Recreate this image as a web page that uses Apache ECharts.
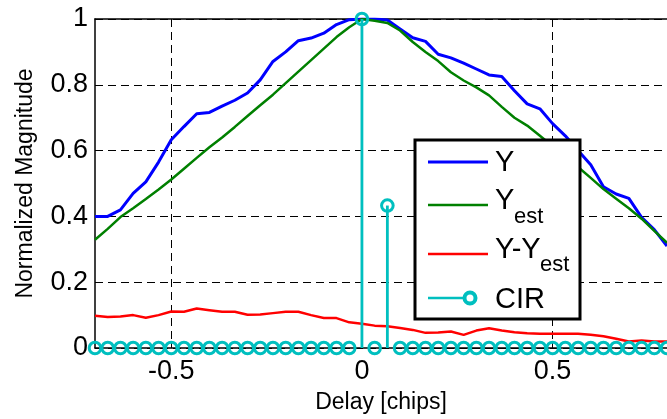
<!DOCTYPE html>
<html><head><meta charset="utf-8">
<script src="https://cdn.jsdelivr.net/npm/echarts@6/dist/echarts.min.js"></script>
<style>html,body{margin:0;padding:0;background:#fff}#c{width:667px;height:419px}</style>
</head><body><div id="c"></div>
<script>
const delays = [-0.7000,-0.6667,-0.6333,-0.6000,-0.5667,-0.5333,-0.5000,-0.4667,-0.4333,-0.4000,-0.3667,-0.3333,-0.3000,-0.2667,-0.2333,-0.2000,-0.1667,-0.1333,-0.1000,-0.0667,-0.0333,0,0.0333,0.0667,0.1000,0.1333,0.1667,0.2000,0.2333,0.2667,0.3000,0.3333,0.3667,0.4000,0.4333,0.4667,0.5000,0.5333,0.5667,0.6000,0.6333,0.6667,0.7000,0.7333,0.7667,0.8000];
const yMeasured = [0.40,0.40,0.42,0.47,0.505,0.565,0.633,0.673,0.712,0.716,0.735,0.753,0.775,0.815,0.871,0.90,0.934,0.942,0.957,0.983,0.998,1.0,1.0,0.997,0.97,0.943,0.932,0.893,0.882,0.866,0.848,0.83,0.825,0.782,0.742,0.727,0.682,0.645,0.60,0.557,0.49,0.468,0.455,0.397,0.36,0.31];
const yEstimated = [0.329,0.362,0.398,0.425,0.453,0.482,0.512,0.545,0.578,0.61,0.64,0.672,0.705,0.738,0.77,0.805,0.84,0.875,0.91,0.945,0.975,1.0,0.995,0.988,0.965,0.93,0.9,0.872,0.838,0.813,0.792,0.768,0.733,0.70,0.676,0.645,0.613,0.582,0.55,0.517,0.483,0.454,0.425,0.393,0.356,0.32];
const yDiff = [0.098,0.094,0.096,0.10,0.092,0.10,0.111,0.11,0.12,0.115,0.11,0.11,0.101,0.102,0.106,0.11,0.11,0.10,0.091,0.091,0.078,0.074,0.068,0.066,0.061,0.055,0.046,0.047,0.05,0.04,0.053,0.06,0.053,0.048,0.045,0.043,0.043,0.043,0.043,0.04,0.036,0.028,0.02,0.023,0.02,0.02];
const cir = [0,0,0,0,0,0,0,0,0,0,0,0,0,0,0,0,0,0,0,0,0,1.0,0,0.433,0,0,0,0,0,0,0,0,0,0,0,0,0,0,0,0,0,0,0,0,0,0];
const xTicks = [-0.5, 0, 0.5];
const legendNames = ['Y', 'Y', 'Y-Y', 'CIR'];
const legendSubs = ['', 'est', 'est', ''];

const FONT = '"Liberation Sans", Arial, Helvetica, sans-serif';
const BLUE = '#0000FF', GREEN = '#008000', RED = '#FF0000', CYAN = '#00BFBF';
const pairs = arr => delays.map((d, i) => [d, arr[i]]);

const chart = echarts.init(document.getElementById('c'), null, {renderer: 'canvas'});

const legX = 415, legY = 140, legW = 165, legH = 179;
const rowLineY = [162, 205, 254, 298];
const rowTextY = [163, 201, 250, 300];
const rowSubY = [0, 217, 265, 0];
const colors = [BLUE, GREEN, RED, CYAN];
const lineWidths = [3, 2.5, 2.5, 2.5];
const graphics = [{
  type: 'rect', z: 100, shape: {x: legX, y: legY, width: legW, height: legH},
  style: {fill: '#fff', stroke: '#000', lineWidth: 3}
}];
legendNames.forEach((nm, i) => {
  graphics.push({type: 'line', z: 101, shape: {x1: 428, y1: rowLineY[i], x2: i === 3 ? 468 : 488, y2: rowLineY[i]},
    style: {stroke: colors[i], lineWidth: lineWidths[i]}});
  graphics.push({type: 'text', z: 101, x: 495, y: rowTextY[i],
    style: {text: nm, font: '29px ' + FONT, fill: '#000', textAlign: 'left', textVerticalAlign: 'middle'}});
  if (legendSubs[i]) {
    graphics.push({type: 'text', z: 101, x: i === 1 ? 514 : 540, y: rowSubY[i],
      style: {text: legendSubs[i], font: '22px ' + FONT, fill: '#000', textAlign: 'left', textVerticalAlign: 'middle'}});
  }
});
graphics.push({type: 'circle', z: 102, shape: {cx: 470, cy: 298, r: 5.5}, style: {fill: '#fff', stroke: CYAN, lineWidth: 4}});

const option = {
  animation: false,
  backgroundColor: '#fff',
  grid: {left: 95, top: 19, width: 576, height: 329.3, show: false},
  xAxis: [{
    type: 'value', min: -0.7, max: 0.8, position: 'bottom',
    axisLine: {show: true, onZero: false, lineStyle: {color: '#000', width: 1.5}},
    axisTick: {show: true, inside: true, length: 6, customValues: xTicks, lineStyle: {color: '#000', width: 1}},
    axisLabel: {customValues: xTicks, fontSize: 27, color: '#000', fontFamily: FONT, margin: 10, formatter: v => String(v)},
    splitLine: {show: true, lineStyle: {color: '#000', type: [8, 5], width: 1}},
    name: 'Delay [chips]', nameLocation: 'middle', nameGap: 43,
    nameTextStyle: {fontSize: 23, color: '#000', fontFamily: FONT}
  }, {
    type: 'value', min: -0.7, max: 0.8, position: 'top',
    axisLine: {show: true, onZero: false, lineStyle: {color: '#000', width: 1.5}},
    axisTick: {show: true, inside: true, length: 6, customValues: xTicks, lineStyle: {color: '#000', width: 1}},
    axisLabel: {show: false}, splitLine: {show: false}
  }],
  yAxis: [{
    type: 'value', min: 0, max: 1, interval: 0.2,
    axisLine: {show: true, onZero: false, lineStyle: {color: '#000', width: 1.5}},
    axisTick: {show: true, inside: true, length: 6, lineStyle: {color: '#000', width: 1}},
    axisLabel: {fontSize: 27, color: '#000', fontFamily: FONT, margin: 7},
    splitLine: {show: true, lineStyle: {color: '#000', type: [8, 5], width: 1}},
    name: 'Normalized Magnitude', nameLocation: 'middle', nameGap: 58, nameRotate: 90,
    nameTextStyle: {fontSize: 23, color: '#000', fontFamily: FONT}
  }],
  series: [
    {type: 'line', name: 'Y', data: pairs(yMeasured), showSymbol: false, symbol: 'none', clip: true,
      lineStyle: {color: BLUE, width: 3}, z: 3},
    {type: 'line', name: 'Yest', data: pairs(yEstimated), showSymbol: false, symbol: 'none', clip: true,
      lineStyle: {color: GREEN, width: 2.5}, z: 4},
    {type: 'line', name: 'Y-Yest', data: pairs(yDiff), showSymbol: false, symbol: 'none', clip: true,
      lineStyle: {color: RED, width: 2.5}, z: 5},
    {type: 'custom', name: 'CIR', data: pairs(cir), z: 6, clip: false,
      renderItem: function (params, api) {
        const x = api.value(0), v = api.value(1);
        const p0 = api.coord([x, 0]);
        const p1 = api.coord([x, v]);
        const children = [];
        if (v > 0) {
          children.push({type: 'line', shape: {x1: p0[0], y1: p0[1], x2: p1[0], y2: p1[1]},
            style: {stroke: CYAN, lineWidth: 2.8}});
        }
        children.push({type: 'circle', shape: {cx: p1[0], cy: p1[1], r: 5.8},
          style: {fill: 'none', stroke: CYAN, lineWidth: 3}});
        return {type: 'group', children: children};
      }
    }
  ],
  graphic: graphics
};
chart.setOption(option);
</script>
</body></html>
